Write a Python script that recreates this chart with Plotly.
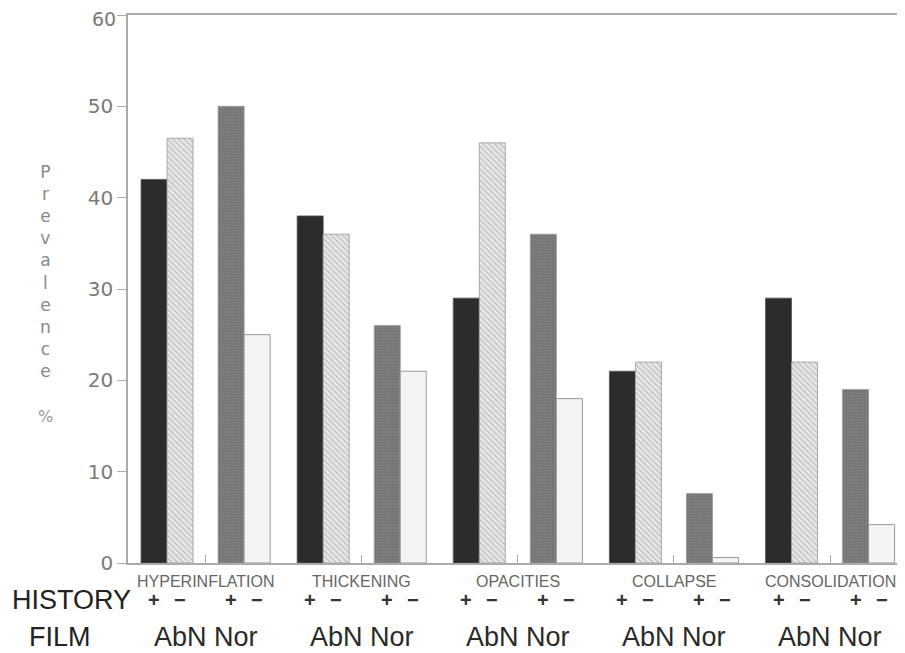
import plotly.graph_objects as go

categories = ["HYPERINFLATION", "THICKENING", "OPACITIES", "COLLAPSE", "CONSOLIDATION"]
abn_pos = [42, 38, 29, 21, 29]      # Film AbN, history +
abn_neg = [46.5, 36, 46, 22, 22]    # Film AbN, history -
nor_pos = [50, 26, 36, 7.6, 19]     # Film Nor, history +
nor_neg = [25, 21, 18, 0.6, 4.2]    # Film Nor, history -
y_ticks = [0, 10, 20, 30, 40, 50, 60]
history_signs = ["+", "\u2212", "+", "\u2212"]
film_label = "AbN Nor"

# page body adds an 8px margin; lay the figure out in reference pixels shifted by it
OX, OY = 8, 8
L, T, PW, PH = 128 - OX, 15 - OY, 777, 548
FW, FH = 905 - OX, 653 - OY

xs = list(range(len(categories)))
W = 26 / 156
offsets = [-64.5 / 156, -38.5 / 156, 12.5 / 156, 38.5 / 156]

fig = go.Figure()
series = [
    (abn_pos, dict(color="#2c2c2c", line=dict(color="#555", width=0.8))),
    (abn_neg, dict(color="#e8e8e8", line=dict(color="#999", width=0.8),
                   pattern=dict(shape="\\", fgcolor="#909090", size=4, solidity=0.3))),
    (nor_pos, dict(color="#7e7e7e", line=dict(color="#999", width=0.8),
                   pattern=dict(shape=".", fgcolor="#5e5e5e", size=3, solidity=0.3))),
    (nor_neg, dict(color="#f4f4f4", line=dict(color="#999", width=1))),
]
for (vals, mk), off in zip(series, offsets):
    fig.add_trace(go.Bar(x=xs, y=vals, width=W, offset=off, marker=mk, showlegend=False))

tick_font = dict(family="DejaVu Sans", size=20, color="#7a7a7a")
top_tick = y_ticks[-1]
fig.update_layout(
    width=FW, height=FH,
    margin=dict(l=L, r=FW - L - PW, t=T, b=FH - T - PH),
    paper_bgcolor="white", plot_bgcolor="white",
    barmode="overlay",
    xaxis=dict(range=[-0.497, 4.48], tickvals=xs, showticklabels=False,
               ticks="inside", ticklen=8, tickcolor="#aaa",
               showline=True, linecolor="#aaa", linewidth=1.5, mirror=True,
               showgrid=False, zeroline=False),
    yaxis=dict(range=[0, top_tick], tickvals=y_ticks,
               ticktext=[str(v) if v != top_tick else "" for v in y_ticks],
               ticks="outside", ticklen=9,
               tickcolor="#aaa", showline=True, linecolor="#aaa", linewidth=1.5,
               showgrid=False, zeroline=False, tickfont=tick_font),
    font=dict(family="Liberation Sans"),
)


def py_(py):
    return ((T + PH) - (py - OY)) / PH


def px_(px):
    return ((px - OX) - L) / PW


annotations = []
# top tick label (kept inside the page edge)
annotations.append(dict(text=str(top_tick), xref="paper", yref="y", x=0, y=top_tick,
                        xanchor="right", yanchor="middle", xshift=-10, yshift=-4,
                        showarrow=False, font=dict(tick_font, size=19)))
annotations.append(dict(text="<br>".join(list("Prevalence")), xref="paper", yref="paper",
                        x=px_(45), y=py_(160), xanchor="center", yanchor="top",
                        showarrow=False, font=dict(family="DejaVu Sans", size=17, color="#888")))
annotations.append(dict(text="%", xref="paper", yref="paper",
                        x=px_(45), y=py_(417), xanchor="center", yanchor="middle",
                        showarrow=False, font=dict(family="DejaVu Sans", size=16, color="#999")))
for i, c in enumerate(categories):
    annotations.append(dict(text=c, x=i, xref="x", yref="paper", y=py_(581),
                            xanchor="center", yanchor="middle", showarrow=False,
                            font=dict(family="Liberation Sans", size=16, color="#666")))
    for off, s in zip(offsets, history_signs):
        annotations.append(dict(text="<b>%s</b>" % s, x=i + off + W / 2, xref="x", yref="paper",
                                y=py_(600), xanchor="center", yanchor="middle",
                                showarrow=False,
                                font=dict(family="Liberation Sans", size=20, color="#333")))
    annotations.append(dict(text=film_label, x=i, xref="x", yref="paper", y=py_(637),
                            xanchor="center", yanchor="middle", showarrow=False,
                            font=dict(family="Liberation Sans", size=27, color="#2a2a2a")))
annotations.append(dict(text="HISTORY", xref="paper", yref="paper", x=px_(10),
                        y=py_(600), xanchor="left", yanchor="middle", showarrow=False,
                        font=dict(family="Liberation Sans", size=27, color="#222")))
annotations.append(dict(text="FILM", xref="paper", yref="paper", x=px_(27),
                        y=py_(637), xanchor="left", yanchor="middle", showarrow=False,
                        font=dict(family="Liberation Sans", size=27, color="#222")))
fig.update_layout(annotations=annotations)

fig.write_html("out.html")
